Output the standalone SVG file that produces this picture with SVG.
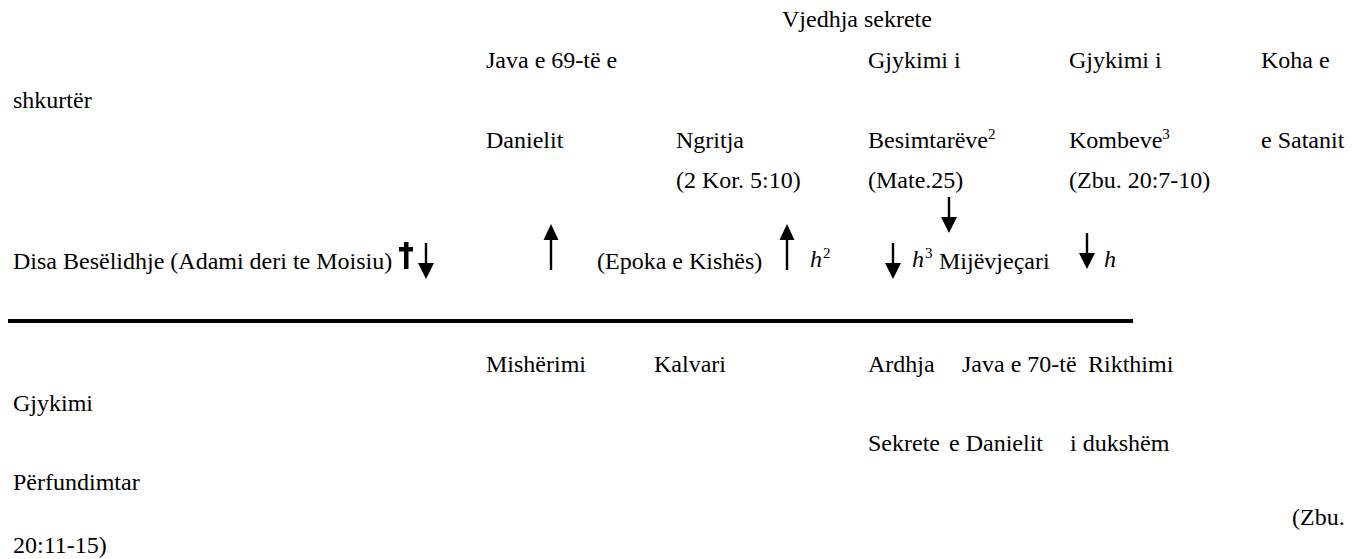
<svg xmlns="http://www.w3.org/2000/svg" width="1358" height="559" viewBox="0 0 1358 559">
<style>
text{font-family:"Liberation Serif","Times New Roman",serif;font-size:24px;fill:#000}
.h{font-style:italic;font-size:24px}
.sup{font-size:15px}
</style>
<defs>
<path id="up" d="M0,0 L7.5,16 L1.2,16 L1.2,46 L-1.2,46 L-1.2,16 L-7.5,16 Z" fill="#000"/>
<path id="down" d="M-1.2,0 L1.2,0 L1.2,20 L8,20 L0,36 L-8,20 L-1.2,20 Z" fill="#000"/>
</defs>
<g id="labels-top">
<text x="782" y="27">Vjedhja sekrete</text>
<text x="486" y="68">Java e 69-të e</text>
<text x="868" y="68">Gjykimi i</text>
<text x="1069" y="68">Gjykimi i</text>
<text x="1261" y="68">Koha e</text>
<text x="13" y="108">shkurtër</text>
<text x="486" y="148">Danielit</text>
<text x="676" y="148">Ngritja</text>
<text x="868" y="148">Besimtarëve<tspan class="sup" dy="-9">2</tspan></text>
<text x="1069" y="148">Kombeve<tspan class="sup" dy="-9">3</tspan></text>
<text x="1261" y="148">e Satanit</text>
<text x="676" y="188">(2 Kor. 5:10)</text>
<text x="868" y="188">(Mate.25)</text>
<text x="1069" y="188">(Zbu. 20:7-10)</text>
</g>
<g id="timeline-row">
<text x="13" y="269">Disa Besëlidhje (Adami deri te Moisiu)</text>
<text x="597" y="269">(Epoka e Kishës)</text>
<text x="810" y="267" class="h">h</text><text x="823" y="258" class="sup">2</text>
<text x="912" y="267" class="h">h</text><text x="925" y="258" class="sup">3</text>
<text x="939" y="269">Mijëvjeçari</text>
<text x="1104" y="267" class="h">h</text>
</g>
<g id="cross">
<rect x="404" y="242" width="4.5" height="27" fill="#000"/>
<rect x="399" y="247" width="14" height="4.5" fill="#000"/>
</g>
<g id="connectors">
<use href="#down" x="426" y="243"/>
<use href="#up" x="551" y="224"/>
<use href="#up" x="787" y="224"/>
<use href="#down" x="893" y="243"/>
<use href="#down" x="949" y="197"/>
<use href="#down" x="1087" y="233"/>
<rect x="8" y="319" width="1125" height="4" fill="#000"/>
</g>
<g id="labels-bottom">
<text x="486" y="372">Mishërimi</text>
<text x="654" y="372">Kalvari</text>
<text x="868" y="372">Ardhja</text>
<text x="962" y="372">Java e 70-të</text>
<text x="1088" y="372">Rikthimi</text>
<text x="13" y="411">Gjykimi</text>
<text x="868" y="451">Sekrete</text>
<text x="949" y="451">e Danielit</text>
<text x="1070" y="451">i dukshëm</text>
<text x="13" y="490">Përfundimtar</text>
<text x="1292" y="525">(Zbu.</text>
<text x="13" y="553">20:11-15)</text>
</g>
</svg>
